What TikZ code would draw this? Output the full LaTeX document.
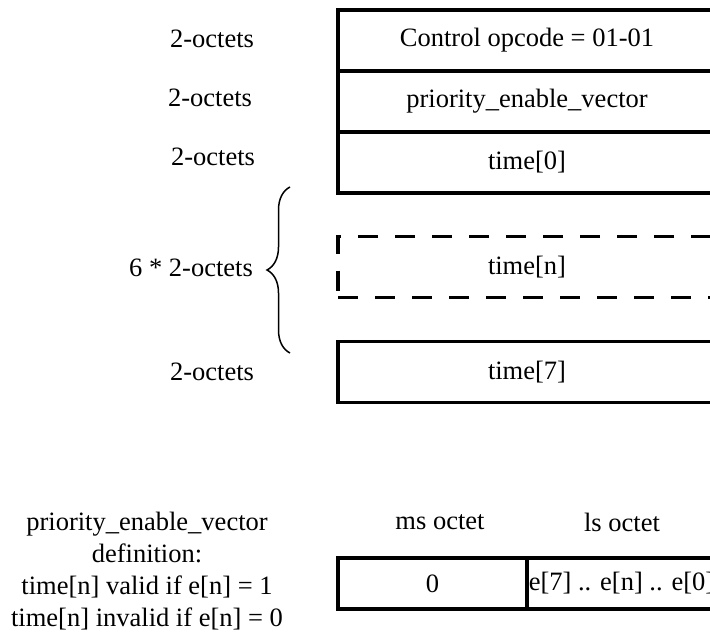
\documentclass[tikz,border=0pt]{standalone}
\usepackage{fontspec}
\setmainfont{Liberation Serif}
\usepackage{tikz}
\usetikzlibrary{positioning}
\usetikzlibrary{decorations.pathreplacing}

\tikzset{
  field/.style={draw,line width=3.5pt,minimum width=378pt,minimum height=61pt,inner sep=0pt,outer sep=0pt},
  half/.style={field,minimum width=189pt,minimum height=51pt},
  curly/.style={decorate,decoration={brace,amplitude=23pt},line width=1.5pt}
}

\begin{document}
\begin{tikzpicture}[x=1pt,y=-1pt,font=\fontsize{26.5}{32}\selectfont]
\useasboundingbox (0,0) rectangle (710,635);
\node[field] (ctrl) at (527,40.5) {Control opcode = 01-01};
\node[field,below=0pt of ctrl] (prio) {priority\_enable\_vector};
\node[field,below=0pt of prio] (t0) {time[0]};
\node[field,dash pattern=on 20pt off 17pt] (tn) at (527,267) {time[n]};
\node[field] (t7) at (527,372) {time[7]};
\node (l0) at (212,39) {2-octets};
\node (l1) at (210,98) {2-octets};
\node (l2) at (213,157) {2-octets};
\node (l7) at (212,372) {2-octets};
\coordinate (bt) at (290,187);
\coordinate (bb) at (290,353);
\draw[curly] (bb) -- (bt);
\node (mult) at (191,268) {6 * 2-octets};
\node[half] (ms) at (432.5,583.5) {0};
\node[half,right=0pt of ms] (ls) {e[7] .. e[n] .. e[0]};
\node (msl) at (440,522) {ms octet};
\node (lsl) at (622,522) {ls octet};
\node[align=center] (defn) at (147,571) {priority\_enable\_vector\\definition:\\time[n] valid if e[n] = 1\\time[n] invalid if e[n] = 0};
\end{tikzpicture}
\end{document}
